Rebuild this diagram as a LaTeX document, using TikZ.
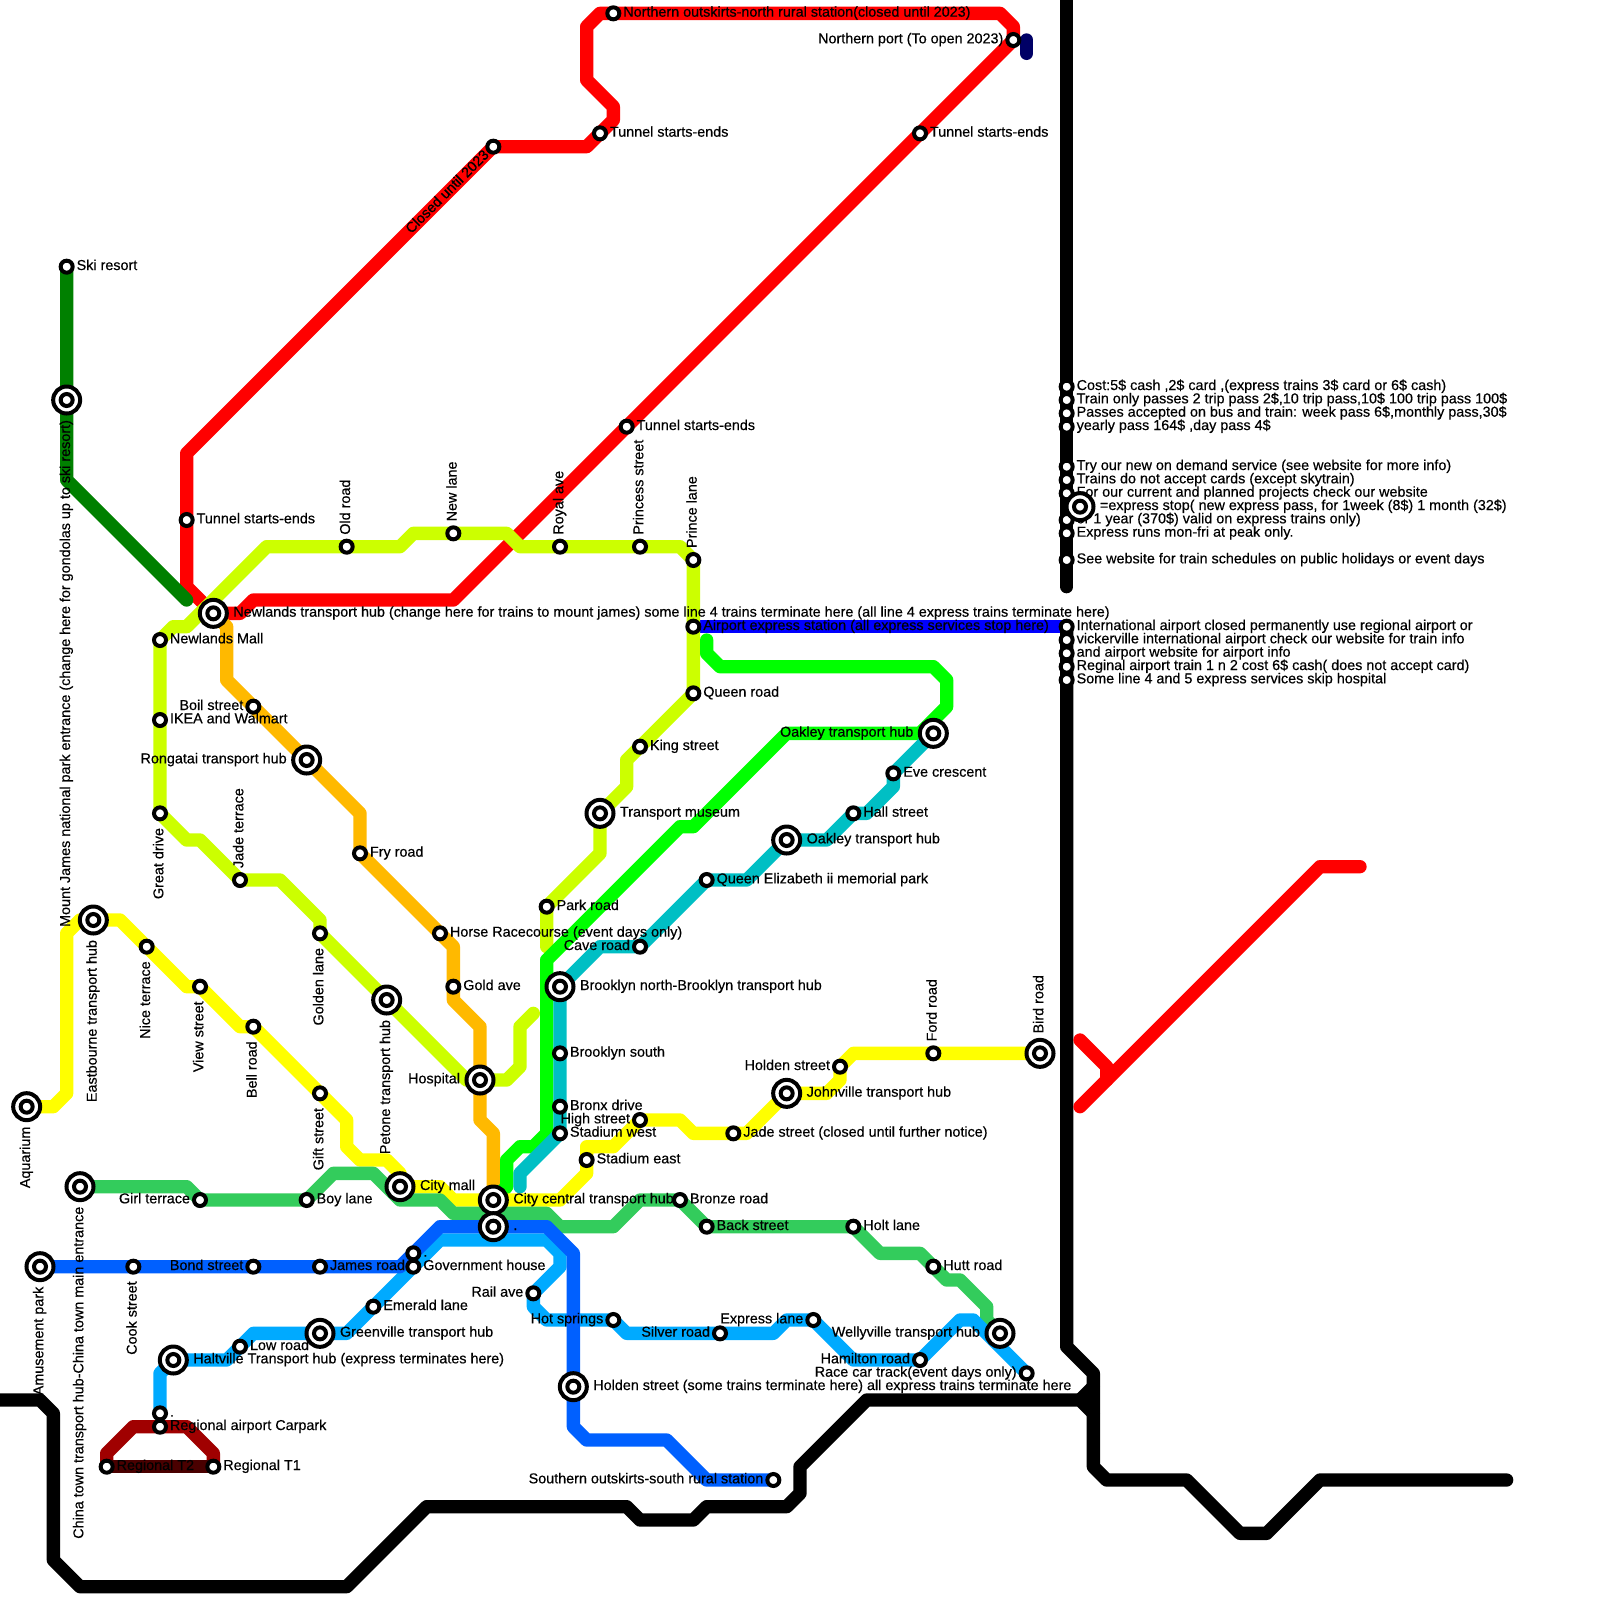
\documentclass[tikz,border=0pt]{standalone}
\usepackage{fontspec}
\newfontfamily\lab{Liberation Sans}[FakeBold=0.4]
\pgfdeclarelayer{bg}
\pgfsetlayers{bg,main}
\tikzset{
  st/.style={circle,draw=black,fill=white,line width=2pt,minimum size=6pt,inner sep=0pt,outer sep=0pt},
  hub/.style={circle,draw=black,fill=white,line width=2pt,minimum size=13.5pt,inner sep=0pt,outer sep=0pt,
    path picture={\draw[line width=2pt] (path picture bounding box.center) circle (3pt);}},
  tx/.style={inner sep=0pt,outer sep=0pt,text=black,font=\lab\fontsize{7.18}{8.5}\selectfont},
  ln/.style={line width=6.667pt,line cap=round,line join=round},
}
\definecolor{cRed}{HTML}{FF0000}
\definecolor{cDG}{HTML}{008000}
\definecolor{cLime}{HTML}{CCFF00}
\definecolor{cOr}{HTML}{FFB900}
\definecolor{cBG}{HTML}{00FF00}
\definecolor{cAir}{HTML}{0000FF}
\definecolor{cTeal}{HTML}{00BFC4}
\definecolor{cYel}{HTML}{FFFF00}
\definecolor{cCG}{HTML}{33CC5C}
\definecolor{cBlue}{HTML}{0060FF}
\definecolor{cCy}{HTML}{00AAFF}
\definecolor{cDR}{HTML}{A00000}
\definecolor{cDK}{HTML}{4A0000}
\definecolor{cNavy}{HTML}{000066}
% small stations
\newcommand\Sr[4]{\node[st] (#1) at (#2,#3) {}; \node[tx,anchor=base west] (#1t) at ({#2+.75},{#3+.25}) {#4};}
\newcommand\Sl[4]{\node[st] (#1) at (#2,#3) {}; \node[tx,anchor=base east] (#1t) at ({#2-.75},{#3+.25}) {#4};}
\newcommand\Su[4]{\node[st] (#1) at (#2,#3) {}; \node[tx,rotate=90,anchor=base west] (#1t) at ({#2+.25},{#3-.9}) {#4};}
\newcommand\Sd[4]{\node[st] (#1) at (#2,#3) {}; \node[tx,rotate=90,anchor=base east] (#1t) at ({#2+.25},{#3+1.1}) {#4};}
% interchange stations
\newcommand\Ir[4]{\node[hub] (#1) at (#2,#3) {}; \node[tx,anchor=base west] (#1t) at ({#2+1.5},{#3+.25}) {#4};}
\newcommand\Il[4]{\node[hub] (#1) at (#2,#3) {}; \node[tx,anchor=base east] (#1t) at ({#2-1.5},{#3+.25}) {#4};}
\newcommand\Iu[4]{\node[hub] (#1) at (#2,#3) {}; \node[tx,rotate=90,anchor=base west] (#1t) at ({#2+.25},{#3-1.5}) {#4};}
\newcommand\Id[4]{\node[hub] (#1) at (#2,#3) {}; \node[tx,rotate=90,anchor=base east] (#1t) at ({#2+.25},{#3+1.5}) {#4};}
\begin{document}
\begin{tikzpicture}[x=6.6667pt,y=-6.6667pt]
\useasboundingbox (0,0) rectangle (120,120);
\begin{pgfonlayer}{bg}
\fill[white] (0,0) rectangle (120,120);
\end{pgfonlayer}
% free ends
\coordinate (btop) at (80,0);
\coordinate (bend) at (80,44);
\coordinate (bleft) at (0,105);
\coordinate (bright) at (113,111);
\coordinate (n1) at (77,3);
\coordinate (n2) at (77,4);
\coordinate (ra) at (81,78);
\coordinate (rb) at (81,83);
\coordinate (rc) at (102,65);
\coordinate (lnd) at (40,76);
% red line stations
\Sr{north}{46}{1}{Northern outskirts-north rural station(closed until 2023)}
\Sl{port}{76}{3}{Northern port (To open 2023)}
\Sr{tone}{45}{10}{Tunnel starts-ends}
\Sr{ttwo}{69}{10}{Tunnel starts-ends}
\Sr{tthree}{47}{32}{Tunnel starts-ends}
\Sr{tfour}{14}{39}{Tunnel starts-ends}
\node[st] (closed) at (37,11) {};
\node[tx,rotate=45,anchor=base east] (closedt) at (36.73,11.68) {Closed until 2023};
% green
\Sr{ski}{5}{20}{Ski resort}
\Id{mtj}{5}{30}{Mount James national park entrance (change here for gondolas up to ski resort)}
% lime
\Ir{newl}{16}{46}{Newlands transport hub (change here for trains to mount james) some line 4 trains terminate here (all line 4 express trains terminate here)}
\Sr{mall}{12}{48}{Newlands Mall}
\Sr{ikea}{12}{54}{IKEA and Walmart}
\Sd{great}{12}{61}{Great drive}
\Su{jade}{18}{66}{Jade terrace}
\Sd{golden}{24}{70}{Golden lane}
\Id{petone}{29}{75}{Petone transport hub}
\Il{hosp}{36}{81}{Hospital}
\Su{old}{26}{41}{Old road}
\Su{newla}{34}{40}{New lane}
\Su{royal}{42}{41}{Royal ave}
\Su{princess}{48}{41}{Princess street}
\Su{prince}{52}{42}{Prince lane}
\Sr{air}{52}{47}{Airport express station (all express services stop here)}
\Sr{queen}{52}{52}{Queen road}
\Sr{king}{48}{56}{King street}
\Ir{museum}{45}{61}{Transport museum}
\Sr{park}{41}{68}{Park road}
% orange
\Sl{boil}{19}{53}{Boil street}
\Il{rong}{23}{57}{Rongatai transport hub}
\Sr{fry}{27}{64}{Fry road}
\Sr{horse}{33}{70}{Horse Racecourse (event days only)}
\Sr{gold}{34}{74}{Gold ave}
% teal
\Il{oakA}{70}{55}{Oakley transport hub}
\Sr{eve}{67}{58}{Eve crescent}
\Sr{hall}{64}{61}{Hall street}
\Ir{oakB}{59}{63}{Oakley transport hub}
\Sr{qe}{53}{66}{Queen Elizabeth ii memorial park}
\Sl{cave}{48}{71}{Cave road}
\Ir{brook}{42}{74}{Brooklyn north-Brooklyn transport hub}
\Sr{bsouth}{42}{79}{Brooklyn south}
\Sr{bronx}{42}{83}{Bronx drive}
\Sr{swest}{42}{85}{Stadium west}
% yellow
\Id{aqua}{2}{83}{Aquarium}
\Id{east}{7}{69}{Eastbourne transport hub}
\Sd{nice}{11}{71}{Nice terrace}
\Sd{view}{15}{74}{View street}
\Sd{bell}{19}{77}{Bell road}
\Sd{gift}{24}{82}{Gift street}
\Ir{cmall}{30}{89}{City mall}
\Ir{central}{37}{90}{City central transport hub}
\Ir{second}{37}{92}{.}
\Sr{seast}{44}{87}{Stadium east}
\Sl{high}{48}{84}{High street}
\Sr{jadest}{55}{85}{Jade street (closed until further notice)}
\Ir{john}{59}{82}{Johnville transport hub}
\Sl{holdst}{63}{80}{Holden street}
\Su{ford}{70}{79}{Ford road}
\Iu{bird}{78}{79}{Bird road}
% city green
\Id{china}{6}{89}{China town transport hub-China town main entrance}
\Sl{girl}{15}{90}{Girl terrace}
\Sr{boy}{23}{90}{Boy lane}
\Sr{bronze}{51}{90}{Bronze road}
\Sr{back}{53}{92}{Back street}
\Sr{holt}{64}{92}{Holt lane}
\Sr{hutt}{70}{95}{Hutt road}
\Il{well}{75}{100}{Wellyville transport hub}
% blue
\Id{amuse}{3}{95}{Amusement park}
\Sd{cook}{10}{95}{Cook street}
\Sl{bond}{19}{95}{Bond street}
\Sr{james}{24}{95}{James road}
\Sr{dotg}{31}{94}{.}
\Sr{gov}{31}{95}{Government house}
\Ir{holden}{43}{104}{Holden street (some trains terminate here) all express trains terminate here}
\Sl{south}{58}{111}{Southern outskirts-south rural station}
% cyan
\Sr{emerald}{28}{98}{Emerald lane}
\Sl{rail}{40}{97}{Rail ave}
\Sl{hot}{46}{99}{Hot springs}
\Sl{silver}{54}{100}{Silver road}
\Sl{express}{61}{99}{Express lane}
\Sl{ham}{69}{102}{Hamilton road}
\Sl{race}{77}{103}{Race car track(event days only)}
\Sr{low}{18}{101}{Low road}
\Ir{green}{24}{100}{Greenville transport hub}
\Ir{halt}{13}{102}{Haltville Transport hub (express terminates here)}
\Sr{rdot}{12}{106}{.}
\Sr{carpark}{12}{107}{Regional airport Carpark}
\Sr{ttwoR}{8}{110}{Regional T2}
\Sr{toneR}{16}{110}{Regional T1}
% information stops
\Sr{ia}{80}{29}{Cost:5\$ cash ,2\$ card ,(express trains 3\$ card or 6\$ cash)}
\Sr{ib}{80}{30}{Train only passes 2 trip pass 2\$,10 trip pass,10\$ 100 trip pass 100\$}
\Sr{ic}{80}{31}{Passes accepted on bus and train: week pass 6\$,monthly pass,30\$}
\Sr{id}{80}{32}{yearly pass 164\$ ,day pass 4\$}
\Sr{ie}{80}{35}{Try our new on demand service (see website for more info)}
\Sr{if}{80}{36}{Trains do not accept cards (except skytrain)}
\Sr{ig}{80}{37}{For our current and planned projects check our website}
\Sr{ih}{80}{39}{or 1 year (370\$) valid on express trains only)}
\Sr{ii}{80}{40}{Express runs mon-fri at peak only.}
\Sr{ij}{80}{42}{See website for train schedules on public holidays or event days}
\Ir{ikey}{81}{38}{=express stop( new express pass, for 1week (8\$) 1 month (32\$)}
\Sr{ja}{80}{47}{International airport closed permanently use regional airport or}
\Sr{jb}{80}{48}{vickerville international airport check our website for train info}
\Sr{jc}{80}{49}{and airport website for airport info}
\Sr{jd}{80}{50}{Reginal airport train 1 n 2 cost 6\$ cash( does not accept card)}
\Sr{je}{80}{51}{Some line 4 and 5 express services skip hospital}
\begin{pgfonlayer}{bg}
% air line below black
\draw[ln,cAir] (air.center)--(ja.center);
% black
\draw[ln,black] (btop)--(ia.center)--(ij.center)--(bend);
\draw[ln,black] (ja.center)--(je.center)--(80,101)--(82,103)--(82,110)--(83,111)--(89,111)--(93,115)--(95,115)--(99,111)--(bright);
\draw[ln,black] (bleft)--(3,105)--(4,106)--(4,117)--(6,119)--(26,119)--(32,113)--(47,113)--(48,114)--(52,114)--(53,113)--(59,113)--(60,112)--(60,110)--(65,105)--(81,105)--(82,106);
\draw[ln,black] (81,105)--(82,104);
% navy
\draw[ln,cNavy] (n1)--(n2);
% red
\draw[ln,cRed] (port.center)--(ttwo.center)--(tthree.center)--(34,45)--(19,45)--(18,46)--(newl.center)--(14,44)--(tfour.center)--(14,34)--(closed.center)--(44,11)--(tone.center)--(46,9)--(46,8)--(44,6)--(44,2)--(45,1)--(north.center)--(75,1)--(76,2)--(port.center);
\draw[ln,cRed] (ra)--(83,80)--(83,81);
\draw[ln,cRed] (rb)--(99,65)--(rc);
% dark green
\draw[ln,cDG] (ski.center)--(mtj.center)--(5,36)--(14,45);
% orange
\draw[ln,cOr] (newl.center)--(17,47)--(17,51)--(boil.center)--(rong.center)--(27,61)--(fry.center)--(horse.center)--(34,71)--(gold.center)--(34,75)--(36,77)--(hosp.center)--(36,84)--(37,85)--(central.center);
% lime
\draw[ln,cLime] (great.center)--(ikea.center)--(mall.center)--(13,47)--(14,47)--(20,41)--(old.center)--(30,41)--(31,40)--(newla.center)--(38,40)--(39,41)--(royal.center)--(princess.center)--(51,41)--(prince.center)--(air.center)--(queen.center)--(king.center)--(47,57)--(47,59)--(museum.center)--(45,64)--(park.center)--(41,71);
\draw[ln,cLime] (great.center)--(14,63)--(15,63)--(jade.center)--(21,66)--(24,69)--(golden.center)--(petone.center)--(35,81)--(hosp.center)--(38,81)--(39,80)--(39,77)--(lnd);
% bright green
\draw[ln,cBG] (central.center)--(38,89)--(38,87)--(39,86)--(40,86)--(41,85)--(41,72)--(51,62)--(52,62)--(59,55)--(oakA.center)--(69,55)--(71,53)--(71,51)--(70,50)--(54,50)--(53,49)--(53,48);
% teal
\draw[ln,cTeal] (oakA.center)--(eve.center)--(67,59)--(65,61)--(hall.center)--(62,63)--(oakB.center)--(56,66)--(qe.center)--(cave.center)--(45,71)--(brook.center)--(bsouth.center)--(bronx.center)--(swest.center)--(39,88)--(39,89);
% yellow
\draw[ln,cYel] (aqua.center)--(4,83)--(5,82)--(5,70)--(6,69)--(east.center)--(9,69)--(nice.center)--(14,74)--(view.center)--(18,77)--(bell.center)--(gift.center)--(26,84)--(26,86)--(27,87)--(29,87)--(30,88)--(cmall.center)--(31,89)--(33,89)--(34,90)--(central.center)--(42,90)--(44,88)--(seast.center)--(44,86)--(46,86)--(high.center)--(51,84)--(52,85)--(jadest.center)--(56,85)--(john.center)--(62,82)--(63,81)--(holdst.center)--(64,79)--(ford.center)--(bird.center);
% city green
\draw[ln,cCG] (china.center)--(14,89)--(girl.center)--(boy.center)--(25,88)--(28,88)--(30,90)--(33,90)--(34,91)--(41,91)--(42,92)--(46,92)--(48,90)--(bronze.center)--(back.center)--(holt.center)--(66,94)--(69,94)--(hutt.center)--(71,96)--(72,96)--(74,98)--(74,99)--(well.center);
% cyan
\draw[ln,cCy] (rdot.center)--(12,103)--(13,102)--(halt.center)--(17,102)--(low.center)--(19,100)--(green.center)--(26,100)--(emerald.center)--(gov.center)--(33,93)--(41,93)--(42,94)--(42,95)--(rail.center)--(40,98)--(41,99)--(hot.center)--(47,100)--(silver.center)--(58,100)--(59,99)--(express.center)--(64,102)--(ham.center)--(72,99)--(73,99)--(75,101)--(race.center);
% blue
\draw[ln,cBlue] (amuse.center)--(cook.center)--(bond.center)--(james.center)--(30,95)--(dotg.center)--(33,92)--(second.center)--(41,92)--(43,94)--(holden.center)--(43,107)--(44,108)--(50,108)--(53,111)--(south.center);
% regional
\draw[ln,cDR] (ttwoR.center)--(8,109)--(10,107)--(carpark.center)--(14,107)--(16,109)--(toneR.center);
\draw[ln,cDK] (ttwoR.center)--(toneR.center);
\end{pgfonlayer}
\end{tikzpicture}
\end{document}
